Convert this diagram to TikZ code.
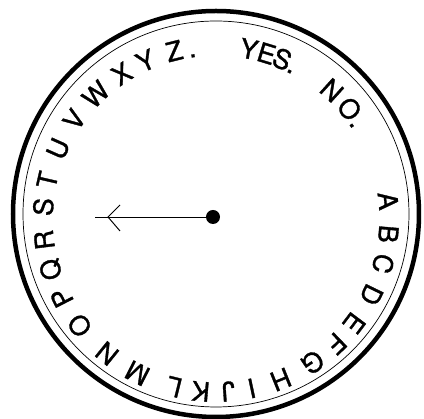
\documentclass[tikz,border=0pt]{standalone}
\usepackage{fontspec}
\setmainfont{TeX Gyre Heros}[FakeBold=1.2]
\usetikzlibrary{calc}

\begin{document}
\begin{tikzpicture}[x=0.025cm,y=0.025cm,
  rim/.style={line width=3.2pt},
  ring/.style={line width=0.5pt},
  glyph/.style={font=\fontsize{19}{19}\selectfont, inner sep=0pt, text height=13.7pt, text depth=0pt}]
\useasboundingbox (0,0) rectangle (424,419);
\coordinate (hub) at (216,205);
\coordinate (mid) at (216,200);
\draw[rim] (hub) circle (203);
\draw[ring] (hub) circle (193);
% letters round the dial, tops facing out
\foreach \ch/\ang [count=\i] in {A/6,B/-5,C/-15,D/-26,E/-37,F/-46,G/-56,H/-68,I/-78,J/-86,K/-95,L/-104,M/-117,N/-129,O/-142,P/-153,Q/-163,R/-173,S/176,T/167,U/156,V/145,W/134,X/123,Y/114,Z/104,./98}
  \node[glyph, rotate=\ang-90] (g\i) at ($(mid)+(\ang:173)$) {\ch};
% yes / no
\foreach \ch/\ang [count=\i] in {Y/79,E/73,S/67.5,./63.5}
  \node[glyph, rotate=\ang-90] (yes\i) at ($(mid)+(\ang:173)$) {\ch};
\foreach \ch/\ang [count=\i] in {N/48,O/39.5,./34.5}
  \node[glyph, rotate=\ang-90] (no\i) at ($(mid)+(\ang:173)$) {\ch};
% pointer
\node[circle, fill, inner sep=0pt, minimum size=0.35cm] (pivot) at (213,202) {};
\coordinate (tip) at (95,202);
\coordinate (vee) at (108,202);
\coordinate (armA) at (120,214);
\coordinate (armB) at (120,188);
\draw[ring] (pivot) -- (tip);
\draw[line width=0.7pt] (armA) -- (vee) -- (armB);
\end{tikzpicture}
\end{document}
